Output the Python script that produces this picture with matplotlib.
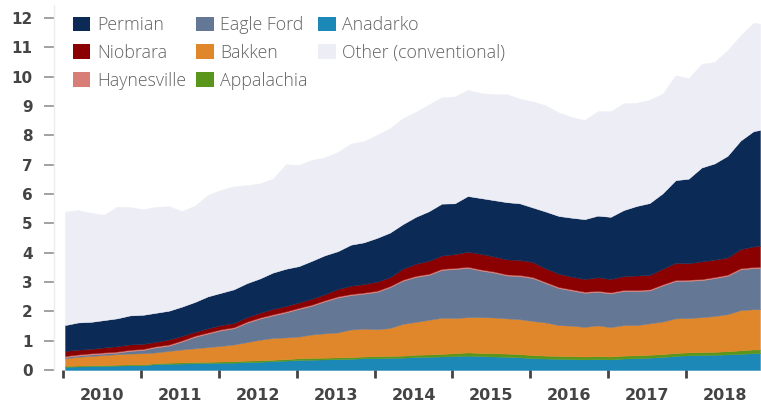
import matplotlib
matplotlib.use("Agg")
import matplotlib.pyplot as plt
from matplotlib.patches import Patch
from matplotlib.font_manager import FontProperties

# month index (0 = Jan 2010), sampled every two months, last = Dec 2018
months = [0, 2, 4, 6, 8, 10, 12, 14, 16, 18, 20, 22, 24, 26, 28, 30, 32, 34, 36, 38,
          40, 42, 44, 46, 48, 50, 52, 54, 56, 58, 60, 62, 64, 66, 68, 70, 72, 74, 76, 78,
          80, 82, 84, 86, 88, 90, 92, 94, 96, 98, 100, 102, 104, 106, 107]

anadarko = [0.11, 0.12, 0.13, 0.14, 0.15, 0.16, 0.16, 0.20, 0.21, 0.22, 0.23, 0.24, 0.25, 0.25,
            0.27, 0.28, 0.30, 0.32, 0.34, 0.35, 0.36, 0.37, 0.38, 0.40, 0.40, 0.41, 0.42, 0.44,
            0.45, 0.46, 0.47, 0.49, 0.47, 0.46, 0.45, 0.43, 0.40, 0.39, 0.38, 0.37, 0.36, 0.37,
            0.36, 0.39, 0.40, 0.42, 0.44, 0.48, 0.50, 0.51, 0.52, 0.53, 0.55, 0.57, 0.57]
appalachia = [0.03, 0.03, 0.03, 0.03, 0.03, 0.03, 0.03, 0.03, 0.04, 0.04, 0.04, 0.04, 0.04, 0.05,
              0.05, 0.05, 0.05, 0.05, 0.06, 0.06, 0.06, 0.06, 0.06, 0.06, 0.07, 0.07, 0.07, 0.08,
              0.08, 0.09, 0.10, 0.11, 0.11, 0.11, 0.11, 0.11, 0.11, 0.10, 0.10, 0.10, 0.10, 0.10,
              0.10, 0.10, 0.10, 0.10, 0.10, 0.10, 0.10, 0.10, 0.10, 0.11, 0.12, 0.13, 0.13]
bakken = [0.26, 0.30, 0.32, 0.34, 0.36, 0.37, 0.38, 0.37, 0.40, 0.44, 0.47, 0.50, 0.53, 0.57,
          0.63, 0.70, 0.74, 0.74, 0.74, 0.80, 0.83, 0.85, 0.94, 0.95, 0.92, 0.95, 1.08, 1.12,
          1.18, 1.23, 1.20, 1.20, 1.22, 1.22, 1.20, 1.19, 1.16, 1.13, 1.05, 1.04, 1.01, 1.05,
          1.00, 1.04, 1.03, 1.07, 1.11, 1.18, 1.17, 1.19, 1.22, 1.26, 1.37, 1.37, 1.37]
eagle_ford = [0.04, 0.04, 0.05, 0.05, 0.05, 0.09, 0.11, 0.17, 0.18, 0.27, 0.39, 0.46, 0.53, 0.55,
              0.66, 0.72, 0.77, 0.85, 0.94, 0.98, 1.09, 1.19, 1.17, 1.19, 1.27, 1.39, 1.47, 1.53,
              1.53, 1.63, 1.67, 1.68, 1.59, 1.53, 1.46, 1.47, 1.46, 1.34, 1.26, 1.20, 1.16, 1.14,
              1.15, 1.16, 1.16, 1.12, 1.23, 1.27, 1.27, 1.26, 1.29, 1.31, 1.39, 1.40, 1.41]
haynesville = [0.04, 0.04, 0.04, 0.04, 0.04, 0.04, 0.04, 0.04, 0.04, 0.04, 0.04, 0.04, 0.04, 0.04,
               0.04, 0.04, 0.04, 0.04, 0.04, 0.04, 0.04, 0.04, 0.04, 0.04, 0.04, 0.04, 0.04, 0.04,
               0.04, 0.04, 0.04, 0.04, 0.04, 0.04, 0.04, 0.04, 0.04, 0.04, 0.04, 0.04, 0.04, 0.04,
               0.04, 0.04, 0.04, 0.04, 0.04, 0.04, 0.04, 0.04, 0.04, 0.04, 0.04, 0.04, 0.04]
niobrara = [0.17, 0.16, 0.15, 0.17, 0.18, 0.18, 0.17, 0.15, 0.17, 0.15, 0.13, 0.14, 0.14, 0.14,
            0.15, 0.16, 0.18, 0.18, 0.18, 0.20, 0.20, 0.25, 0.28, 0.29, 0.31, 0.30, 0.37, 0.41,
            0.44, 0.45, 0.47, 0.51, 0.53, 0.51, 0.51, 0.51, 0.51, 0.46, 0.45, 0.43, 0.43, 0.46,
            0.45, 0.47, 0.49, 0.49, 0.53, 0.58, 0.56, 0.60, 0.59, 0.58, 0.65, 0.70, 0.71]
permian = [0.88, 0.93, 0.92, 0.93, 0.95, 0.99, 0.99, 0.99, 0.98, 1.00, 1.02, 1.09, 1.10, 1.15,
           1.16, 1.17, 1.24, 1.27, 1.24, 1.29, 1.33, 1.29, 1.40, 1.42, 1.49, 1.52, 1.52, 1.60,
           1.69, 1.77, 1.73, 1.90, 1.90, 1.92, 1.95, 1.93, 1.86, 1.94, 1.97, 2.01, 2.04, 2.10,
           2.12, 2.25, 2.37, 2.45, 2.57, 2.82, 2.88, 3.20, 3.28, 3.47, 3.70, 3.93, 3.95]
other = [3.87, 3.83, 3.72, 3.59, 3.81, 3.69, 3.60, 3.61, 3.56, 3.26, 3.28, 3.46, 3.51, 3.51,
         3.34, 3.24, 3.20, 3.56, 3.45, 3.44, 3.34, 3.38, 3.45, 3.45, 3.51, 3.56, 3.61, 3.58,
         3.64, 3.63, 3.64, 3.62, 3.58, 3.61, 3.68, 3.57, 3.61, 3.62, 3.53, 3.43, 3.38, 3.56,
         3.60, 3.64, 3.52, 3.52, 3.40, 3.57, 3.43, 3.53, 3.46, 3.60, 3.58, 3.70, 3.62]

years = ["2010", "2011", "2012", "2013", "2014", "2015", "2016", "2017", "2018"]
yticks = [0, 1, 2, 3, 4, 5, 6, 7, 8, 9, 10, 11, 12]

# stacking order bottom -> top
stack_names = ["Anadarko", "Appalachia", "Bakken", "Eagle Ford", "Haynesville",
               "Niobrara", "Permian", "Other (conventional)"]
stack_vals = [anadarko, appalachia, bakken, eagle_ford, haynesville, niobrara, permian, other]
color_map = {
    "Permian": "#0b2b56",
    "Niobrara": "#8b0000",
    "Haynesville": "#d97d77",
    "Eagle Ford": "#647896",
    "Bakken": "#e0862b",
    "Appalachia": "#5a961c",
    "Anadarko": "#1b88b8",
    "Other (conventional)": "#ededf5",
}
legend_order = ["Permian", "Niobrara", "Haynesville", "Eagle Ford", "Bakken",
                "Appalachia", "Anadarko", "Other (conventional)"]

W, H = 761, 403
fig = plt.figure(figsize=(W / 100, H / 100), dpi=100)
ax = fig.add_axes([54 / W, 33 / H, 707 / W, 365 / H])

ax.stackplot(months, stack_vals, colors=[color_map[n] for n in stack_names],
             linewidth=0.3, edgecolor="face")

ax.set_xlim(-1.7, 107.15)
ax.set_ylim(0, 12.44)

# y axis
ax.set_yticks(yticks)
ax.set_yticklabels([str(v) for v in yticks], fontsize=11, fontweight="bold",
                   color="#444444", family="DejaVu Sans")
ax.tick_params(axis="y", length=7.5, width=1.3, color="#9a9a9a", pad=8)

# x axis: year boundaries as ticks, labels centred on each year
ax.set_xticks([12 * i - 0.35 for i in range(len(years))])
ax.set_xticklabels([])
ax.set_xticks([12 * i + 5.65 for i in range(len(years))], minor=True)
ax.set_xticklabels(years, minor=True, fontsize=11.5, fontweight="bold",
                   color="#444444", family="DejaVu Sans")
ax.tick_params(axis="x", which="major", length=6, width=2, color="#444444")
ax.tick_params(axis="x", which="minor", length=0, pad=13)

for s in ["top", "right", "bottom"]:
    ax.spines[s].set_visible(False)
ax.spines["left"].set_color("#ececec")
ax.spines["left"].set_linewidth(1.0)

handles = [Patch(facecolor=color_map[n], edgecolor="none") for n in legend_order]
fp = FontProperties(family=["Open Sans", "DejaVu Sans"], weight="light", size=12.8)
leg = ax.legend(handles, legend_order, ncol=3, loc="upper left",
                bbox_to_anchor=(73 / W, 1 - 16 / H), bbox_transform=fig.transFigure,
                frameon=False, borderpad=0, borderaxespad=0, handlelength=0.96,
                handleheight=0.86, handletextpad=0.38, columnspacing=0.6,
                labelspacing=0.55, prop=fp, labelcolor="#626262")

fig.savefig("out.png", dpi=100)
